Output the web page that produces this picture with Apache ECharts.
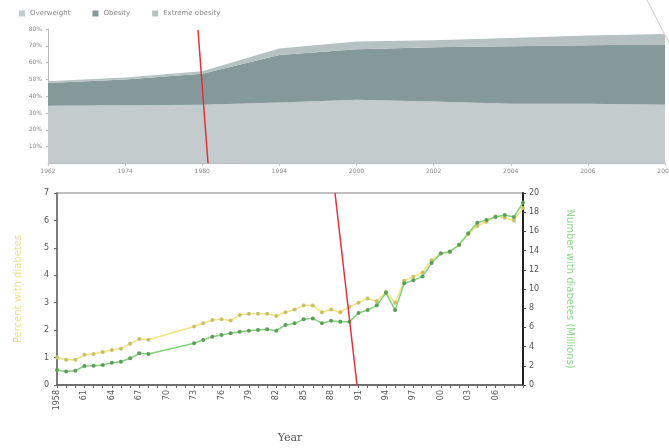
<!DOCTYPE html>
<html><head><meta charset="utf-8">
<script src="https://cdn.jsdelivr.net/npm/echarts@6/dist/echarts.min.js"></script>
<style>html,body{margin:0;padding:0;background:#fff}#c{width:669px;height:448px}</style>
</head><body><div id="c"></div>
<script>
// ---- Top chart: adult weight categories (% of population, stacked) ----
const topYears = ['1962','1974','1980','1994','2000','2002','2004','2006','2008'];
const overweight     = [34.3, 34.6, 35.0, 36.3, 37.9, 36.9, 35.5, 35.5, 35.0];
const obesity        = [13.6, 15.3, 18.4, 28.3, 30.1, 32.2, 34.2, 34.8, 35.8];
const extremeObesity = [1.0, 1.2, 1.5, 3.8, 4.5, 4.2, 5.0, 5.8, 6.3];
const topTicks = [0, 10, 20, 30, 40, 50, 60, 70, 80];

// ---- Bottom chart: diagnosed diabetes ----
const years = ['1958','1959','1960','1961','1962','1963','1964','1965','1966','1967','1968','1969','1970','1971','1972','1973','1974','1975','1976','1977','1978','1979','1980','1981','1982','1983','1984','1985','1986','1987','1988','1989','1990','1991','1992','1993','1994','1995','1996','1997','1998','1999','2000','2001','2002','2003','2004','2005','2006','2007','2008','2009'];
const percentDiabetes = [1.00,0.92,0.92,1.10,1.13,1.20,1.28,1.32,1.50,1.68,1.65,null,null,null,null,2.13,2.25,2.37,2.40,2.35,2.55,2.60,2.60,2.60,2.52,2.65,2.75,2.90,2.90,2.65,2.75,2.65,2.85,3.00,3.15,3.05,3.40,3.00,3.80,3.95,4.10,4.55,4.80,4.85,5.10,5.50,5.80,5.95,6.15,6.10,6.00,6.45];
const millionsDiabetes = [1.56,1.40,1.49,1.98,2.00,2.08,2.33,2.43,2.78,3.30,3.23,null,null,null,null,4.35,4.70,5.03,5.20,5.38,5.55,5.66,5.73,5.80,5.66,6.25,6.42,6.84,6.94,6.42,6.70,6.60,6.60,7.50,7.80,8.30,9.60,7.80,10.60,10.90,11.30,12.70,13.70,13.90,14.60,15.80,16.90,17.20,17.50,17.70,17.50,19.00];
const leftTicks = [0,1,2,3,4,5,6,7];
const rightTicks = [0,2,4,6,8,10,12,14,16,18,20];

const chart = echarts.init(document.getElementById('c'));
const small = {fontFamily:'DejaVu Sans, sans-serif'};
chart.setOption({
  animation:false,
  backgroundColor:'#fff',
  legend:{
    left:14, top:5, itemWidth:6, itemHeight:6, itemGap:22, icon:'rect',
    textStyle:{fontSize:7, color:'#888', fontFamily:'DejaVu Sans'},
    data:['Overweight','Obesity','Extreme obesity']
  },
  grid:[
    {left:48, right:4, top:29, height:134.5, outerBoundsMode:'none', containLabel:false},
    {left:57, right:146, top:193, height:192, show:true, borderColor:'#aaa', borderWidth:1.5, outerBoundsMode:'none', containLabel:false}
  ],
  xAxis:[
    {type:'category', gridIndex:0, data:topYears, boundaryGap:false,
     axisLine:{lineStyle:{color:'#bbb'}}, axisTick:{show:true, length:2, lineStyle:{color:'#bbb'}},
     axisLabel:{fontSize:6, color:'#888', margin:5, ...small}},
    {type:'category', gridIndex:1, data:years, boundaryGap:false,
     name:'Year', nameLocation:'middle', nameGap:48,
     nameTextStyle:{fontSize:11, color:'#555', fontFamily:'DejaVu Serif'},
     axisLine:{lineStyle:{color:'#555', width:1.5}},
     axisTick:{show:true, interval:0, length:3, lineStyle:{color:'#666'}},
     axisLabel:{rotate:90, fontSize:8, color:'#555', margin:5, ...small,
       interval:(i)=> i%3===0 && i<=48,
       formatter:(v,i)=> i===0 ? v : v.slice(2)}}
  ],
  yAxis:[
    {type:'value', gridIndex:0, min:0, max:80, interval:10,
     axisLine:{show:true, lineStyle:{color:'#bbb'}}, axisTick:{show:true, length:2, lineStyle:{color:'#bbb'}},
     splitLine:{show:false},
     axisLabel:{fontSize:6, color:'#888', margin:6, showMinLabel:false, formatter:'{value}%', ...small}},
    {type:'value', gridIndex:1, min:0, max:7, interval:1, position:'left',
     name:'Percent with diabetes', nameLocation:'middle', nameGap:34,
     nameTextStyle:{fontSize:10, color:'#f0e08a', ...small},
     axisLine:{show:true, lineStyle:{color:'#666', width:1.5}},
     axisTick:{show:true, length:3, lineStyle:{color:'#666'}},
     splitLine:{show:false},
     axisLabel:{fontSize:8, color:'#555', margin:8, ...small}},
    {type:'value', gridIndex:1, min:0, max:20, interval:2, position:'right',
     name:'Number with diabetes (Millions)', nameLocation:'middle', nameGap:42,
     nameRotate:-90,
     nameTextStyle:{fontSize:10, color:'#8fd88f', ...small},
     axisLine:{show:true, lineStyle:{color:'#222', width:2}},
     axisTick:{show:true, length:3, lineStyle:{color:'#444'}},
     splitLine:{show:false},
     axisLabel:{fontSize:8, color:'#555', margin:6, ...small}}
  ],
  series:[
    {name:'Overweight', type:'line', xAxisIndex:0, yAxisIndex:0, stack:'w', data:overweight,
     symbol:'none', lineStyle:{width:0}, areaStyle:{color:'#c3cbcc', opacity:1}, itemStyle:{color:'#c3cbcc'}},
    {name:'Obesity', type:'line', xAxisIndex:0, yAxisIndex:0, stack:'w', data:obesity,
     symbol:'none', lineStyle:{width:0}, areaStyle:{color:'#85989a', opacity:1}, itemStyle:{color:'#85989a'}},
    {name:'Extreme obesity', type:'line', xAxisIndex:0, yAxisIndex:0, stack:'w', data:extremeObesity,
     symbol:'none', lineStyle:{width:0}, areaStyle:{color:'#b6c1c1', opacity:1}, itemStyle:{color:'#b6c1c1'}},
    {name:'Percent', type:'line', xAxisIndex:1, yAxisIndex:1, data:percentDiabetes, connectNulls:true,
     symbol:'circle', symbolSize:4, showSymbol:true,
     lineStyle:{color:'#f3e37e', width:1.5}, itemStyle:{color:'#c9c06a', borderWidth:0}},
    {name:'Millions', type:'line', xAxisIndex:1, yAxisIndex:2, data:millionsDiabetes, connectNulls:true,
     symbol:'circle', symbolSize:4, showSymbol:true,
     lineStyle:{color:'#80d47a', width:1.5}, itemStyle:{color:'#5a9e5a', borderWidth:0}}
  ],
  graphic:[
    {type:'line', z:100, shape:{x1:198,y1:30,x2:208,y2:163}, style:{stroke:'#e2323c', lineWidth:1.5}},
    {type:'line', z:100, shape:{x1:335,y1:193,x2:357,y2:385}, style:{stroke:'#e2323c', lineWidth:1.5}},
    {type:'line', z:100, shape:{x1:647,y1:0,x2:669,y2:43}, style:{stroke:'#ccc', lineWidth:1}}
  ]
});
</script></body></html>
